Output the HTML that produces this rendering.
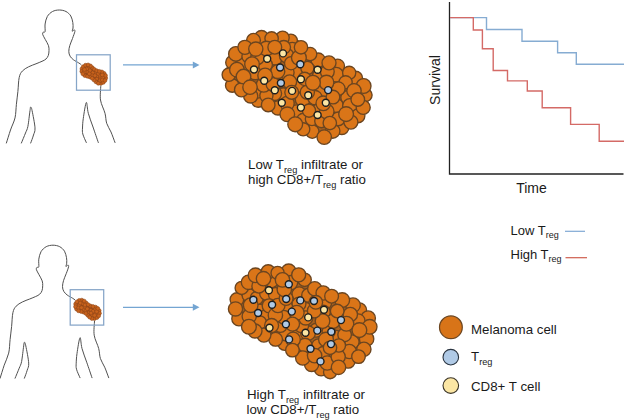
<!DOCTYPE html>
<html><head><meta charset="utf-8"><style>
html,body{margin:0;padding:0;background:#fff;width:625px;height:420px;overflow:hidden}
svg{display:block;font-family:"Liberation Sans",sans-serif}
.fig path{fill:none;stroke:#505050;stroke-width:1.0;stroke-linecap:round}
.box{fill:none;stroke:#86a5c8;stroke-width:1.25}
.arr{stroke:#74a5d2;stroke-width:1.35}
.ah{fill:#74a5d2}
.cl circle{fill:#da7518;stroke:#6b4520;stroke-width:1.35}
.cl .ul{fill:#a8601e;stroke:none}
.dt circle{stroke:#1e1e1e;stroke-width:1.4}
circle.y{fill:#fbe6a4}
circle.b{fill:#b0cae6}
.mt{fill:#9a4a1c;stroke:none}
.ms circle{fill:#c8621c;stroke:#8a4418;stroke-width:0.55}
.ax{fill:none;stroke:#222;stroke-width:1.3}
.bl{fill:none;stroke:#86acd2;stroke-width:1.4}
.rd{fill:none;stroke:#d46a66;stroke-width:1.4}
text{fill:#1a1a1a}
</style></head><body>
<svg width="625" height="420" viewBox="0 0 625 420">
<g class="fig"><path d="M6.4,143.0 C7.1,140.8 9.1,134.2 10.5,130.0 C11.9,125.8 14.0,122.2 15.0,117.9 C16.0,113.6 15.9,108.7 16.4,104.3 C16.9,99.9 17.4,95.9 17.9,91.4 C18.4,86.9 18.4,80.9 19.2,77.5 C19.9,74.1 20.8,72.8 22.4,71.0 C24.0,69.2 26.3,68.0 28.6,66.8 C30.9,65.6 33.8,64.7 36.0,63.8 C38.2,62.9 40.3,62.1 42.0,61.3 C43.7,60.5 45.0,60.0 46.0,59.0 C47.0,58.0 47.8,56.9 48.3,55.5 C48.8,54.1 49.0,52.1 49.0,50.5 C49.0,48.9 49.1,47.5 48.5,45.7 C47.9,43.9 46.3,41.4 45.3,39.5 C44.3,37.6 43.1,35.7 42.7,34.5 C42.4,33.3 42.8,32.7 43.2,32.2 C43.6,31.7 44.8,32.9 45.1,31.5 C45.4,30.1 44.7,26.5 45.1,24.0 C45.5,21.5 46.1,18.6 47.3,16.5 C48.5,14.4 50.5,12.6 52.5,11.5 C54.5,10.4 57.0,10.0 59.3,10.0 C61.5,10.0 64.1,10.5 66.0,11.5 C67.9,12.5 69.7,14.2 70.8,16.0 C71.9,17.8 72.4,20.5 72.8,22.5 C73.2,24.5 73.1,26.6 73.0,28.0 C72.9,29.4 72.0,30.9 72.2,31.2 C72.4,31.5 73.8,29.9 74.2,30.0 C74.7,30.1 75.2,30.1 74.9,31.5 C74.6,32.9 73.3,36.2 72.5,38.5 C71.7,40.8 70.4,43.4 69.8,45.5 C69.2,47.6 68.8,49.6 68.8,51.4 C68.8,53.2 69.3,54.8 70.1,56.2 C70.9,57.6 72.1,58.7 73.5,59.8 C74.9,60.9 77.5,62.1 78.7,62.9 C80.0,63.7 80.6,64.2 81.0,64.5"/><path d="M21.4,143.0 C22.1,141.3 24.4,135.8 25.5,133.0 C26.6,130.2 27.1,130.1 27.9,126.4 C28.6,122.7 29.5,113.9 30.0,110.7 C30.5,107.5 30.3,107.1 30.7,107.1 C31.1,107.1 31.4,107.2 32.1,110.7 C32.8,114.2 34.8,123.9 35.0,127.9 C35.2,132.0 34.2,132.5 33.5,135.0 C32.8,137.5 31.2,141.7 30.7,143.0"/><path d="M86.3,142.5 C85.7,141.1 83.4,136.4 82.8,134.0 C82.2,131.6 82.4,130.6 82.5,128.0 C82.6,125.4 82.7,122.5 83.3,118.3 C83.9,114.0 85.5,103.3 86.3,102.5 C87.1,101.7 87.2,109.2 88.3,113.3 C89.4,117.4 91.3,122.1 93.0,127.0 C94.7,131.9 97.4,139.9 98.3,142.5"/><path d="M100.8,86.0 C100.8,88.3 99.8,95.5 100.5,100.0 C101.2,104.5 104.0,109.4 105.0,113.3 C106.0,117.2 105.7,120.2 106.7,123.3 C107.7,126.4 109.6,128.8 111.0,132.0 C112.4,135.2 114.3,140.8 115.0,142.5"/></g>
<g class="fig"><path d="M0.1,378.2 C0.8,376.0 2.8,369.4 4.2,365.2 C5.6,361.0 7.7,357.4 8.7,353.1 C9.7,348.8 9.6,343.9 10.1,339.5 C10.6,335.1 11.1,331.1 11.6,326.6 C12.1,322.1 12.1,316.1 12.9,312.7 C13.6,309.3 14.5,308.0 16.1,306.2 C17.7,304.4 20.0,303.2 22.3,302.0 C24.6,300.8 27.5,299.9 29.7,299.0 C31.9,298.1 34.0,297.3 35.7,296.5 C37.4,295.7 38.7,295.2 39.7,294.2 C40.8,293.2 41.5,292.1 42.0,290.7 C42.5,289.3 42.7,287.3 42.7,285.7 C42.7,284.1 42.8,282.7 42.2,280.9 C41.6,279.1 40.0,276.6 39.0,274.7 C38.0,272.8 36.8,270.9 36.4,269.7 C36.1,268.5 36.5,267.9 36.9,267.4 C37.3,266.9 38.5,268.1 38.8,266.7 C39.1,265.3 38.4,261.7 38.8,259.2 C39.2,256.7 39.8,253.8 41.0,251.7 C42.2,249.6 44.2,247.8 46.2,246.7 C48.2,245.6 50.8,245.2 53.0,245.2 C55.2,245.2 57.8,245.7 59.7,246.7 C61.6,247.7 63.4,249.4 64.5,251.2 C65.6,253.0 66.1,255.7 66.5,257.7 C66.9,259.7 66.8,261.8 66.7,263.2 C66.6,264.6 65.7,266.1 65.9,266.4 C66.1,266.7 67.5,265.1 67.9,265.2 C68.4,265.2 68.9,265.3 68.6,266.7 C68.3,268.1 67.1,271.4 66.2,273.7 C65.3,276.0 64.1,278.6 63.5,280.7 C62.9,282.8 62.5,284.8 62.5,286.6 C62.5,288.4 63.0,290.0 63.8,291.4 C64.6,292.8 65.8,293.9 67.2,295.0 C68.6,296.1 71.2,297.3 72.4,298.1 C73.7,298.9 74.3,299.4 74.7,299.7"/><path d="M15.1,378.2 C15.8,376.5 18.1,371.0 19.2,368.2 C20.3,365.4 20.8,365.3 21.6,361.6 C22.3,357.9 23.2,349.1 23.7,345.9 C24.2,342.7 24.0,342.3 24.4,342.3 C24.8,342.3 25.1,342.4 25.8,345.9 C26.5,349.4 28.5,359.1 28.7,363.1 C28.9,367.2 27.9,367.7 27.2,370.2 C26.5,372.7 24.9,376.9 24.4,378.2"/><path d="M80.0,377.7 C79.4,376.3 77.1,371.6 76.5,369.2 C75.9,366.8 76.1,365.8 76.2,363.2 C76.3,360.6 76.4,357.8 77.0,353.5 C77.6,349.2 79.2,338.5 80.0,337.7 C80.8,336.9 80.9,344.4 82.0,348.5 C83.1,352.6 85.0,357.3 86.7,362.2 C88.4,367.1 91.1,375.1 92.0,377.7"/><path d="M94.5,321.2 C94.5,323.5 93.5,330.6 94.2,335.2 C94.9,339.8 97.7,344.6 98.7,348.5 C99.7,352.4 99.4,355.4 100.4,358.5 C101.4,361.6 103.3,364.0 104.7,367.2 C106.1,370.4 108.0,375.9 108.7,377.7"/></g>
<rect class="box" x="76.5" y="54.8" width="33.7" height="35.4"/>
<rect class="box" x="70.2" y="289.7" width="33.5" height="35.4"/>
<path class="mt" d="M84.5,76.2 C85.6,76.7 88.6,77.3 89.4,77.5 C90.3,77.8 89.5,77.6 89.5,77.6 C89.6,77.6 89.4,77.5 89.6,77.6 C89.9,77.8 91.0,78.3 91.3,78.5 C91.6,78.6 91.4,78.5 91.4,78.5 C91.4,78.5 91.5,78.6 91.5,78.6 C91.5,78.6 90.7,77.8 91.6,78.6 C92.4,79.5 95.6,82.5 96.7,83.4 C97.8,84.3 97.7,83.9 98.2,84.0 C98.8,84.2 99.4,84.3 100.2,84.3 C100.9,84.2 102.0,84.0 102.7,83.7 C103.5,83.3 104.3,82.8 104.9,82.2 C105.4,81.5 105.9,80.8 106.2,80.0 C106.5,79.2 106.7,78.3 106.7,77.4 C106.6,76.5 106.2,75.3 106.0,74.6 C105.7,73.9 105.4,73.6 105.0,73.2 C104.7,72.8 104.4,72.5 103.9,72.2 C103.4,71.9 103.3,71.6 102.1,71.3 C100.9,70.9 97.8,70.3 96.9,70.0 C96.0,69.8 96.8,70.0 96.7,70.0 C96.7,70.0 96.7,70.0 96.6,70.0 C96.6,69.9 96.9,70.1 96.5,69.9 C96.1,69.6 94.6,68.7 94.2,68.4 C93.7,68.2 94.1,68.4 94.1,68.4 C94.0,68.3 94.0,68.3 94.0,68.3 C94.0,68.3 94.3,68.6 93.9,68.2 C93.5,67.8 92.3,66.4 91.7,65.9 C91.1,65.3 91.0,65.2 90.5,65.0 C90.0,64.7 89.5,64.5 89.0,64.3 C88.4,64.2 87.8,64.1 87.1,64.1 C86.4,64.2 85.4,64.4 84.7,64.7 C83.9,65.0 83.2,65.5 82.7,66.1 C82.1,66.7 81.6,67.6 81.3,68.3 C81.0,69.0 80.9,69.6 80.9,70.3 C80.9,71.0 81.0,71.8 81.3,72.5 C81.5,73.3 82.0,74.1 82.5,74.7 C83.0,75.3 83.3,75.7 84.5,76.2Z"/><g class="ms"><circle cx="96.8" cy="78.7" r="1.9"/><circle cx="81.9" cy="68.8" r="1.9"/><circle cx="97.4" cy="75.7" r="1.9"/><circle cx="104.1" cy="73.3" r="1.9"/><circle cx="96.1" cy="81.9" r="1.9"/><circle cx="95.4" cy="72.7" r="1.9"/><circle cx="89.3" cy="68.2" r="1.9"/><circle cx="84.8" cy="75.6" r="1.9"/><circle cx="83.3" cy="66.6" r="1.9"/><circle cx="92.7" cy="72.7" r="1.9"/><circle cx="100.9" cy="83.4" r="1.9"/><circle cx="81.8" cy="71.4" r="1.9"/><circle cx="94.1" cy="80.1" r="1.9"/><circle cx="87.3" cy="71.8" r="1.9"/><circle cx="103.3" cy="82.4" r="1.9"/><circle cx="92.4" cy="67.7" r="1.9"/><circle cx="105.8" cy="78.1" r="1.9"/><circle cx="84.3" cy="71.9" r="1.9"/><circle cx="85.5" cy="65.2" r="1.9"/><circle cx="100.5" cy="77.8" r="1.9"/><circle cx="92.0" cy="75.6" r="1.9"/><circle cx="99.9" cy="80.7" r="1.9"/><circle cx="99.9" cy="75.3" r="1.9"/><circle cx="101.9" cy="71.9" r="1.9"/><circle cx="98.2" cy="73.5" r="1.9"/><circle cx="94.4" cy="69.4" r="1.9"/><circle cx="89.9" cy="70.6" r="1.9"/><circle cx="90.5" cy="65.9" r="1.9"/><circle cx="89.9" cy="77.0" r="1.9"/><circle cx="92.2" cy="78.3" r="1.9"/><circle cx="88.1" cy="64.9" r="1.9"/><circle cx="87.4" cy="76.3" r="1.9"/><circle cx="96.7" cy="70.7" r="1.9"/><circle cx="98.3" cy="83.3" r="1.9"/><circle cx="99.3" cy="71.3" r="1.9"/><circle cx="102.8" cy="77.7" r="1.9"/><circle cx="86.7" cy="68.9" r="1.9"/><circle cx="105.5" cy="75.5" r="1.9"/><circle cx="102.3" cy="80.0" r="1.9"/><circle cx="89.3" cy="73.8" r="1.9"/><circle cx="105.0" cy="80.5" r="1.9"/><circle cx="102.2" cy="74.9" r="1.9"/><circle cx="84.5" cy="69.5" r="1.9"/><circle cx="82.8" cy="73.8" r="1.9"/><circle cx="94.9" cy="75.6" r="1.9"/></g>
<path class="mt" d="M78.2,311.4 C79.4,311.9 82.6,312.6 83.4,312.9 C84.3,313.1 83.5,312.9 83.5,312.9 C83.6,312.9 83.6,312.9 83.6,312.9 C83.7,312.9 83.4,312.8 83.7,313.0 C84.0,313.2 85.2,313.8 85.5,314.0 C85.8,314.2 85.6,314.0 85.6,314.1 C85.7,314.1 85.7,314.1 85.7,314.1 C85.8,314.2 85.2,313.6 85.8,314.2 C86.4,314.8 88.3,316.9 89.1,317.6 C89.9,318.4 89.9,318.3 90.4,318.6 C90.8,318.9 91.4,319.1 91.9,319.2 C92.5,319.4 93.1,319.5 93.9,319.5 C94.6,319.4 95.7,319.2 96.4,318.9 C97.2,318.5 98.0,318.0 98.6,317.4 C99.1,316.7 99.6,316.0 99.9,315.2 C100.2,314.4 100.4,313.5 100.4,312.6 C100.3,311.7 99.9,310.5 99.7,309.8 C99.4,309.1 99.1,308.8 98.7,308.4 C98.4,308.0 98.1,307.7 97.6,307.4 C97.1,307.1 97.0,306.8 95.8,306.5 C94.6,306.1 91.5,305.5 90.6,305.2 C89.7,305.0 90.5,305.2 90.4,305.2 C90.4,305.2 90.4,305.2 90.3,305.2 C90.3,305.1 90.6,305.3 90.2,305.1 C89.8,304.8 88.3,303.9 87.9,303.6 C87.4,303.4 87.8,303.6 87.8,303.6 C87.7,303.5 87.7,303.5 87.7,303.5 C87.7,303.5 88.0,303.8 87.6,303.4 C87.2,303.0 86.0,301.6 85.4,301.1 C84.8,300.5 84.7,300.4 84.2,300.2 C83.7,299.9 83.2,299.7 82.7,299.5 C82.1,299.4 81.5,299.3 80.8,299.3 C80.1,299.4 79.1,299.6 78.4,299.9 C77.6,300.2 76.9,300.7 76.4,301.3 C75.8,301.9 75.3,302.8 75.0,303.5 C74.7,304.2 74.6,304.8 74.6,305.5 C74.6,306.2 74.7,307.0 75.0,307.7 C75.2,308.5 75.7,309.3 76.2,309.9 C76.7,310.5 77.0,310.9 78.2,311.4Z"/><g class="ms"><circle cx="76.5" cy="309.1" r="1.9"/><circle cx="79.0" cy="305.3" r="1.9"/><circle cx="83.6" cy="312.2" r="1.9"/><circle cx="84.5" cy="307.3" r="1.9"/><circle cx="97.1" cy="313.8" r="1.9"/><circle cx="92.2" cy="315.2" r="1.9"/><circle cx="95.6" cy="307.1" r="1.9"/><circle cx="82.9" cy="303.7" r="1.9"/><circle cx="94.5" cy="318.6" r="1.9"/><circle cx="81.8" cy="300.1" r="1.9"/><circle cx="94.7" cy="309.7" r="1.9"/><circle cx="75.6" cy="304.0" r="1.9"/><circle cx="79.2" cy="300.4" r="1.9"/><circle cx="83.7" cy="309.8" r="1.9"/><circle cx="85.8" cy="311.0" r="1.9"/><circle cx="99.2" cy="310.7" r="1.9"/><circle cx="94.9" cy="312.9" r="1.9"/><circle cx="90.9" cy="310.1" r="1.9"/><circle cx="75.5" cy="306.7" r="1.9"/><circle cx="86.1" cy="302.9" r="1.9"/><circle cx="91.9" cy="318.5" r="1.9"/><circle cx="88.4" cy="312.8" r="1.9"/><circle cx="87.3" cy="308.8" r="1.9"/><circle cx="97.0" cy="317.6" r="1.9"/><circle cx="90.4" cy="305.9" r="1.9"/><circle cx="99.5" cy="313.3" r="1.9"/><circle cx="76.9" cy="301.8" r="1.9"/><circle cx="81.1" cy="311.5" r="1.9"/><circle cx="98.7" cy="315.8" r="1.9"/><circle cx="80.2" cy="303.0" r="1.9"/><circle cx="87.8" cy="315.3" r="1.9"/><circle cx="78.6" cy="307.9" r="1.9"/><circle cx="93.0" cy="311.3" r="1.9"/><circle cx="78.5" cy="310.8" r="1.9"/><circle cx="84.2" cy="301.1" r="1.9"/><circle cx="85.0" cy="305.0" r="1.9"/><circle cx="91.0" cy="313.1" r="1.9"/><circle cx="93.0" cy="306.5" r="1.9"/><circle cx="96.7" cy="311.5" r="1.9"/><circle cx="89.7" cy="317.2" r="1.9"/><circle cx="94.6" cy="315.4" r="1.9"/><circle cx="97.8" cy="308.5" r="1.9"/><circle cx="85.9" cy="313.4" r="1.9"/><circle cx="88.1" cy="304.6" r="1.9"/><circle cx="81.5" cy="307.7" r="1.9"/></g>
<line class="arr" x1="123" y1="64.9" x2="194" y2="64.9"/><path class="ah" d="M199.5,64.9 L192.8,61.4 L192.8,68.4Z"/>
<line class="arr" x1="123" y1="307.3" x2="194" y2="307.3"/><path class="ah" d="M199.5,307.3 L192.8,303.8 L192.8,310.8Z"/>
<g class="cl"><path class="ul" d="M250.2,37.8 C247.8,39.6 244.2,43.8 242.9,45.0 C241.7,46.3 244.4,44.0 242.5,45.4 C240.6,46.8 234.0,50.8 231.8,53.4 C229.6,56.0 229.7,59.8 229.3,61.1 C228.8,62.4 229.8,59.5 229.2,61.2 C228.6,62.8 226.0,67.9 225.7,70.9 C225.4,74.0 226.7,76.9 227.4,79.4 C228.1,82.0 228.8,84.5 229.9,86.3 C231.0,88.1 231.9,89.0 233.9,90.2 C235.9,91.5 240.5,93.2 241.9,93.8 C243.3,94.4 242.1,93.9 242.2,93.9 C242.3,94.0 242.4,94.0 242.5,94.1 C242.6,94.2 241.1,93.0 242.8,94.3 C244.5,95.6 249.2,100.1 252.6,102.2 C256.1,104.2 259.4,105.0 263.4,106.5 C267.3,107.9 274.3,110.1 276.5,110.9 C278.8,111.6 276.8,111.0 276.9,111.0 C277.0,111.1 277.2,111.2 277.3,111.2 C277.4,111.3 276.1,110.4 277.6,111.5 C279.1,112.6 284.8,116.8 286.3,117.9 C287.8,119.1 286.5,118.1 286.7,118.2 C286.8,118.3 286.9,118.4 287.0,118.5 C287.1,118.7 286.5,117.8 287.2,118.9 C288.0,120.0 289.3,123.0 291.4,125.1 C293.4,127.1 296.0,129.7 299.4,131.2 C302.9,132.8 310.0,133.8 312.2,134.3 C314.4,134.9 312.4,134.4 312.6,134.5 C312.7,134.5 312.8,134.5 312.9,134.6 C313.1,134.7 311.6,133.8 313.3,134.8 C315.0,135.8 320.8,140.0 323.2,140.7 C325.7,141.5 326.0,140.6 328.2,139.1 C330.4,137.6 335.1,133.1 336.6,131.9 C338.0,130.6 336.8,131.7 336.9,131.6 C337.0,131.5 337.1,131.4 337.3,131.4 C337.4,131.3 337.5,131.2 337.6,131.2 C337.8,131.1 336.2,131.6 338.0,131.0 C339.9,130.5 345.5,129.2 348.6,127.8 C351.7,126.4 354.7,124.6 356.7,122.7 C358.7,120.9 359.3,119.0 360.8,116.6 C362.4,114.1 365.0,110.6 366.2,108.0 C367.4,105.3 367.7,103.6 368.2,100.8 C368.7,98.0 369.3,93.7 369.2,91.2 C369.1,88.7 368.9,87.6 367.7,85.9 C366.5,84.1 362.9,81.7 361.8,80.8 C360.8,79.9 361.7,80.6 361.6,80.6 C361.5,80.5 362.4,81.5 361.4,80.3 C360.5,79.2 357.7,75.7 355.9,73.9 C354.1,72.1 353.0,71.0 350.6,69.5 C348.1,68.0 342.9,65.7 341.4,64.9 C339.8,64.2 342.9,65.7 341.3,64.9 C339.8,64.1 334.8,61.3 332.1,60.2 C329.4,59.2 327.1,58.8 325.0,58.5 C323.0,58.1 320.9,58.1 320.0,58.0 C319.0,57.9 319.7,58.0 319.6,58.0 C319.5,58.0 319.3,57.9 319.2,57.9 C319.1,57.9 319.0,57.8 318.9,57.8 C318.8,57.7 318.7,57.7 318.5,57.6 C318.4,57.6 318.3,57.5 318.2,57.5 C318.1,57.4 318.0,57.3 317.9,57.3 C317.8,57.2 318.6,57.9 317.6,57.0 C316.7,56.2 314.2,53.8 312.2,52.2 C310.3,50.6 307.0,48.4 305.9,47.6 C304.7,46.7 305.6,47.4 305.5,47.2 C305.4,47.1 305.9,47.8 305.2,46.9 C304.4,46.0 302.8,43.3 300.8,41.7 C298.8,40.2 295.9,38.9 293.0,37.5 C290.1,36.2 286.3,34.0 283.5,33.6 C280.7,33.3 277.4,35.3 276.1,35.6 C274.8,36.0 275.9,35.7 275.7,35.7 C275.6,35.7 275.5,35.7 275.4,35.8 C275.2,35.8 275.1,35.8 275.0,35.8 C274.9,35.8 274.8,35.8 274.6,35.7 C274.5,35.7 276.1,36.1 274.3,35.7 C272.4,35.3 266.5,33.7 263.6,33.5 C260.7,33.3 259.2,33.7 256.9,34.4 C254.7,35.1 252.5,36.0 250.2,37.8Z"/><circle cx="337.6" cy="66.0" r="6.9"/><circle cx="232.6" cy="62.4" r="6.9"/><circle cx="261.5" cy="37.4" r="6.9"/><circle cx="275.4" cy="58.1" r="7.0"/><circle cx="336.1" cy="74.7" r="7.3"/><circle cx="283.1" cy="94.7" r="6.9"/><circle cx="319.8" cy="75.9" r="7.4"/><circle cx="298.1" cy="85.5" r="7.0"/><circle cx="341.8" cy="127.4" r="7.1"/><circle cx="243.6" cy="63.0" r="6.9"/><circle cx="302.7" cy="99.4" r="7.4"/><circle cx="355.8" cy="77.9" r="6.7"/><circle cx="281.0" cy="80.6" r="7.3"/><circle cx="255.2" cy="72.5" r="7.3"/><circle cx="321.9" cy="91.5" r="6.8"/><circle cx="312.3" cy="131.6" r="6.7"/><circle cx="232.3" cy="85.5" r="6.8"/><circle cx="347.8" cy="97.5" r="7.0"/><circle cx="296.5" cy="111.8" r="7.0"/><circle cx="318.2" cy="60.2" r="7.2"/><circle cx="310.1" cy="54.1" r="6.7"/><circle cx="235.9" cy="53.9" r="7.3"/><circle cx="258.2" cy="100.3" r="6.9"/><circle cx="274.6" cy="93.5" r="7.0"/><circle cx="315.0" cy="97.7" r="7.2"/><circle cx="257.8" cy="91.1" r="7.0"/><circle cx="266.4" cy="95.6" r="6.6"/><circle cx="248.7" cy="56.2" r="6.8"/><circle cx="290.8" cy="40.7" r="6.6"/><circle cx="336.3" cy="105.5" r="7.0"/><circle cx="292.3" cy="49.3" r="6.9"/><circle cx="332.7" cy="131.0" r="7.2"/><circle cx="250.7" cy="95.9" r="7.1"/><circle cx="297.9" cy="72.6" r="7.3"/><circle cx="282.6" cy="37.7" r="6.6"/><circle cx="286.6" cy="55.6" r="7.2"/><circle cx="286.9" cy="72.4" r="7.2"/><circle cx="265.3" cy="64.7" r="7.1"/><circle cx="257.6" cy="57.6" r="6.9"/><circle cx="253.5" cy="40.3" r="6.9"/><circle cx="303.7" cy="120.6" r="7.4"/><circle cx="289.6" cy="81.9" r="7.0"/><circle cx="338.2" cy="118.9" r="6.8"/><circle cx="278.0" cy="107.9" r="7.1"/><circle cx="291.1" cy="63.2" r="6.6"/><circle cx="365.5" cy="95.1" r="6.6"/><circle cx="312.0" cy="118.9" r="6.7"/><circle cx="307.3" cy="92.2" r="7.1"/><circle cx="349.2" cy="72.8" r="6.6"/><circle cx="263.7" cy="84.7" r="7.4"/><circle cx="307.4" cy="68.0" r="6.6"/><circle cx="318.0" cy="110.7" r="6.7"/><circle cx="268.2" cy="104.9" r="6.8"/><circle cx="283.8" cy="47.2" r="6.7"/><circle cx="273.1" cy="84.4" r="6.9"/><circle cx="309.0" cy="110.6" r="6.6"/><circle cx="228.8" cy="74.7" r="6.7"/><circle cx="349.9" cy="105.9" r="7.3"/><circle cx="358.0" cy="115.8" r="6.9"/><circle cx="271.6" cy="38.4" r="6.7"/><circle cx="236.9" cy="69.7" r="7.3"/><circle cx="266.4" cy="48.5" r="7.3"/><circle cx="350.9" cy="122.1" r="7.0"/><circle cx="327.3" cy="71.8" r="6.9"/><circle cx="363.2" cy="107.4" r="7.0"/><circle cx="274.8" cy="47.2" r="6.9"/><circle cx="277.8" cy="71.5" r="7.0"/><circle cx="363.6" cy="86.0" r="7.4"/><circle cx="241.5" cy="89.8" r="7.0"/><circle cx="324.2" cy="137.1" r="7.2"/><circle cx="345.6" cy="82.3" r="6.6"/><circle cx="321.4" cy="121.0" r="6.7"/><circle cx="326.7" cy="111.5" r="7.3"/><circle cx="287.1" cy="103.4" r="7.1"/><circle cx="329.8" cy="123.0" r="6.7"/><circle cx="252.0" cy="64.2" r="7.3"/><circle cx="298.9" cy="57.7" r="7.4"/><circle cx="287.3" cy="114.3" r="7.3"/><circle cx="265.1" cy="75.4" r="7.3"/><circle cx="354.0" cy="90.8" r="7.2"/><circle cx="323.3" cy="103.3" r="7.3"/><circle cx="338.3" cy="88.7" r="6.8"/><circle cx="243.5" cy="76.6" r="7.3"/><circle cx="244.9" cy="47.3" r="7.0"/><circle cx="326.5" cy="82.5" r="7.3"/><circle cx="303.2" cy="129.3" r="6.6"/><circle cx="291.7" cy="92.3" r="6.9"/><circle cx="346.1" cy="114.1" r="7.4"/><circle cx="304.7" cy="78.9" r="6.7"/><circle cx="329.0" cy="62.9" r="7.0"/><circle cx="295.2" cy="124.3" r="7.4"/><circle cx="250.0" cy="87.2" r="7.2"/><circle cx="301.0" cy="47.3" r="6.7"/><circle cx="357.8" cy="99.5" r="6.8"/><circle cx="255.8" cy="49.1" r="7.1"/><circle cx="312.9" cy="82.8" r="7.4"/><circle cx="333.0" cy="97.1" r="6.8"/></g><g class="dt"><circle class="y" cx="283.0" cy="53.4" r="3.5"/><circle class="y" cx="267.2" cy="58.7" r="3.5"/><circle class="y" cx="254.0" cy="69.5" r="3.5"/><circle class="y" cx="317.6" cy="69.8" r="3.5"/><circle class="y" cx="264.2" cy="80.7" r="3.5"/><circle class="y" cx="300.9" cy="79.2" r="3.5"/><circle class="y" cx="274.8" cy="90.3" r="3.5"/><circle class="y" cx="292.1" cy="90.9" r="3.5"/><circle class="y" cx="308.2" cy="95.3" r="3.5"/><circle class="y" cx="281.8" cy="102.7" r="3.5"/><circle class="y" cx="325.8" cy="102.7" r="3.5"/><circle class="y" cx="300.9" cy="107.6" r="3.5"/><circle class="y" cx="317.6" cy="115.0" r="3.5"/><circle class="b" cx="280.1" cy="67.5" r="3.5"/><circle class="b" cx="300.3" cy="64.3" r="3.5"/><circle class="b" cx="280.9" cy="83.0" r="3.5"/><circle class="b" cx="328.1" cy="90.1" r="3.5"/></g>
<g class="cl"><path class="ul" d="M246.7,279.9 C245.2,281.3 246.6,280.0 246.5,280.1 C246.4,280.2 247.6,279.4 246.3,280.3 C244.9,281.2 240.3,283.1 238.6,285.4 C236.9,287.6 236.4,292.4 236.0,293.9 C235.5,295.3 236.5,292.6 235.9,294.2 C235.3,295.7 232.9,300.2 232.3,303.1 C231.7,306.0 231.9,309.0 232.3,311.6 C232.7,314.3 233.2,316.9 234.8,319.0 C236.3,321.0 240.3,323.0 241.5,323.8 C242.7,324.7 241.8,324.0 241.9,324.1 C242.0,324.3 241.1,323.2 242.2,324.5 C243.3,325.7 245.7,329.7 248.5,331.7 C251.2,333.8 255.0,335.4 259.0,337.0 C262.9,338.6 269.9,340.6 272.2,341.4 C274.5,342.2 270.4,340.5 272.7,341.6 C275.0,342.8 283.7,347.1 285.9,348.2 C288.2,349.4 286.1,348.3 286.2,348.4 C286.3,348.5 286.4,348.5 286.5,348.6 C286.6,348.7 285.2,347.5 286.8,348.8 C288.3,350.1 292.7,354.0 295.6,356.6 C298.6,359.2 300.7,361.8 304.3,364.2 C307.9,366.5 313.0,368.8 317.3,370.6 C321.5,372.4 326.7,374.4 329.6,374.7 C332.6,375.1 332.3,374.5 335.0,373.0 C337.7,371.4 343.9,366.7 345.7,365.4 C347.6,364.1 346.0,365.3 346.1,365.2 C346.2,365.1 346.4,365.1 346.5,365.0 C346.6,364.9 345.1,365.4 346.9,364.9 C348.7,364.3 354.5,363.3 357.2,361.8 C359.9,360.3 361.4,358.3 363.1,355.9 C364.8,353.6 366.2,350.5 367.3,347.6 C368.3,344.8 369.1,340.4 369.5,338.9 C369.9,337.5 369.0,340.6 369.5,338.8 C370.1,336.9 372.1,330.7 372.8,327.8 C373.4,324.9 374.0,323.0 373.7,321.2 C373.4,319.5 372.1,318.7 370.9,317.4 C369.7,316.0 367.0,313.9 366.2,313.2 C365.4,312.4 366.0,313.0 365.9,312.9 C365.9,312.8 366.6,313.7 365.7,312.6 C364.8,311.5 362.6,307.7 360.7,306.0 C358.9,304.4 357.0,303.8 354.7,302.6 C352.4,301.4 348.3,299.4 347.1,298.8 C345.8,298.2 348.5,299.6 347.0,298.8 C345.5,298.0 340.8,295.1 338.0,294.2 C335.2,293.3 331.5,293.6 330.2,293.4 C328.8,293.3 329.9,293.4 329.8,293.4 C329.7,293.3 329.6,293.3 329.5,293.3 C329.4,293.2 329.2,293.2 329.1,293.2 C329.0,293.1 328.9,293.1 328.8,293.0 C328.7,293.0 329.3,293.3 328.5,292.8 C327.7,292.4 325.8,291.1 324.1,290.2 C322.5,289.3 319.6,287.9 318.6,287.4 C317.6,287.0 319.5,287.9 318.4,287.3 C317.2,286.7 313.1,284.2 311.9,283.6 C310.8,282.9 311.7,283.4 311.6,283.4 C311.5,283.3 311.4,283.2 311.3,283.1 C311.2,283.0 311.1,282.9 311.0,282.9 C311.0,282.8 310.9,282.7 310.8,282.6 C310.7,282.5 311.3,283.4 310.6,282.2 C309.8,281.1 307.9,277.1 306.4,275.6 C304.8,274.0 302.2,273.5 301.4,273.1 C300.5,272.7 302.4,273.6 301.3,273.1 C300.3,272.6 297.3,270.8 295.2,270.0 C293.1,269.3 290.9,268.3 288.8,268.4 C286.6,268.6 283.5,270.4 282.3,270.8 C281.2,271.2 282.1,270.9 281.9,270.9 C281.8,271.0 281.7,271.0 281.5,271.0 C281.4,271.0 281.2,271.0 281.1,271.0 C281.0,271.0 280.8,271.0 280.7,271.0 C280.5,271.0 280.4,271.0 280.2,271.0 C280.1,270.9 281.4,271.3 279.8,270.9 C278.3,270.4 274.0,268.6 271.1,268.3 C268.2,268.1 265.1,268.6 262.5,269.2 C260.0,269.7 258.4,269.9 255.8,271.7 C253.2,273.5 248.3,278.5 246.7,279.9Z"/><circle cx="348.1" cy="361.3" r="6.9"/><circle cx="359.2" cy="310.3" r="7.4"/><circle cx="351.9" cy="342.0" r="7.2"/><circle cx="271.6" cy="281.1" r="6.7"/><circle cx="236.9" cy="299.5" r="6.8"/><circle cx="353.0" cy="305.2" r="7.3"/><circle cx="316.1" cy="330.3" r="6.9"/><circle cx="288.7" cy="271.4" r="7.4"/><circle cx="342.2" cy="300.1" r="7.4"/><circle cx="284.6" cy="343.5" r="6.8"/><circle cx="259.3" cy="311.2" r="7.2"/><circle cx="286.6" cy="333.8" r="7.3"/><circle cx="248.8" cy="295.3" r="6.7"/><circle cx="366.6" cy="338.9" r="7.2"/><circle cx="256.8" cy="298.1" r="6.6"/><circle cx="324.6" cy="303.1" r="7.0"/><circle cx="336.1" cy="337.3" r="7.0"/><circle cx="239.0" cy="318.7" r="7.2"/><circle cx="241.7" cy="287.9" r="6.6"/><circle cx="266.8" cy="316.0" r="6.9"/><circle cx="328.7" cy="331.6" r="6.6"/><circle cx="299.4" cy="333.4" r="6.6"/><circle cx="266.7" cy="293.2" r="7.1"/><circle cx="349.3" cy="351.5" r="7.2"/><circle cx="318.5" cy="345.7" r="6.8"/><circle cx="321.2" cy="369.0" r="6.9"/><circle cx="323.2" cy="353.1" r="6.6"/><circle cx="268.2" cy="271.7" r="7.0"/><circle cx="259.8" cy="322.5" r="6.7"/><circle cx="304.6" cy="279.8" r="6.7"/><circle cx="344.6" cy="334.8" r="6.8"/><circle cx="308.0" cy="333.1" r="7.4"/><circle cx="301.4" cy="325.3" r="7.3"/><circle cx="280.4" cy="325.3" r="7.0"/><circle cx="286.6" cy="307.9" r="6.7"/><circle cx="248.5" cy="282.3" r="7.2"/><circle cx="305.0" cy="345.2" r="7.0"/><circle cx="258.8" cy="286.2" r="6.9"/><circle cx="255.5" cy="275.3" r="7.3"/><circle cx="293.1" cy="339.4" r="7.2"/><circle cx="363.9" cy="349.3" r="7.1"/><circle cx="299.2" cy="294.0" r="7.2"/><circle cx="275.6" cy="339.3" r="6.9"/><circle cx="323.1" cy="312.3" r="7.2"/><circle cx="368.1" cy="318.2" r="7.3"/><circle cx="358.5" cy="356.6" r="6.8"/><circle cx="263.9" cy="335.1" r="7.0"/><circle cx="290.6" cy="282.6" r="7.1"/><circle cx="305.9" cy="309.5" r="7.0"/><circle cx="299.0" cy="304.0" r="6.9"/><circle cx="308.7" cy="295.2" r="7.0"/><circle cx="333.1" cy="321.3" r="7.1"/><circle cx="277.6" cy="272.9" r="6.6"/><circle cx="275.5" cy="294.6" r="7.1"/><circle cx="249.2" cy="316.3" r="7.1"/><circle cx="358.2" cy="320.7" r="6.8"/><circle cx="283.7" cy="317.2" r="6.9"/><circle cx="311.6" cy="364.4" r="7.1"/><circle cx="255.0" cy="331.0" r="7.0"/><circle cx="269.2" cy="305.8" r="7.0"/><circle cx="275.4" cy="315.2" r="7.2"/><circle cx="305.7" cy="317.9" r="7.1"/><circle cx="235.5" cy="308.9" r="7.1"/><circle cx="322.5" cy="321.0" r="7.3"/><circle cx="369.7" cy="326.8" r="7.3"/><circle cx="250.7" cy="305.2" r="7.3"/><circle cx="314.7" cy="288.8" r="7.1"/><circle cx="323.2" cy="293.0" r="7.2"/><circle cx="296.8" cy="312.7" r="7.3"/><circle cx="302.8" cy="358.0" r="7.2"/><circle cx="314.4" cy="310.8" r="7.0"/><circle cx="326.0" cy="339.6" r="7.4"/><circle cx="277.9" cy="305.5" r="7.1"/><circle cx="350.3" cy="314.5" r="7.2"/><circle cx="330.1" cy="372.1" r="6.6"/><circle cx="292.4" cy="350.1" r="6.8"/><circle cx="327.2" cy="363.0" r="7.2"/><circle cx="338.2" cy="356.7" r="7.1"/><circle cx="286.1" cy="298.5" r="6.9"/><circle cx="338.8" cy="345.5" r="6.7"/><circle cx="284.3" cy="289.5" r="7.2"/><circle cx="346.4" cy="323.8" r="7.4"/><circle cx="337.2" cy="311.0" r="6.8"/><circle cx="248.9" cy="326.7" r="7.4"/><circle cx="282.5" cy="279.9" r="7.2"/><circle cx="330.0" cy="347.8" r="6.7"/><circle cx="338.5" cy="367.3" r="7.2"/><circle cx="298.7" cy="274.8" r="7.0"/><circle cx="263.5" cy="278.7" r="7.2"/><circle cx="314.6" cy="355.6" r="7.2"/><circle cx="359.4" cy="330.1" r="7.4"/><circle cx="292.5" cy="324.1" r="7.0"/><circle cx="315.8" cy="302.3" r="6.8"/><circle cx="271.6" cy="325.5" r="7.0"/><circle cx="331.6" cy="296.2" r="6.9"/></g><g class="dt"><circle class="y" cx="268.9" cy="290.2" r="3.5"/><circle class="y" cx="324.0" cy="309.8" r="3.5"/><circle class="y" cx="308.2" cy="317.4" r="3.5"/><circle class="y" cx="269.5" cy="327.7" r="3.5"/><circle class="y" cx="305.5" cy="332.7" r="3.5"/><circle class="b" cx="288.8" cy="284.3" r="3.5"/><circle class="b" cx="253.4" cy="299.8" r="3.5"/><circle class="b" cx="286.2" cy="299.0" r="3.5"/><circle class="b" cx="300.3" cy="300.4" r="3.5"/><circle class="b" cx="314.0" cy="301.0" r="3.5"/><circle class="b" cx="272.1" cy="304.8" r="3.5"/><circle class="b" cx="258.1" cy="313.0" r="3.5"/><circle class="b" cx="291.8" cy="311.6" r="3.5"/><circle class="b" cx="341.0" cy="320.1" r="3.5"/><circle class="b" cx="285.9" cy="324.2" r="3.5"/><circle class="b" cx="317.3" cy="330.6" r="3.5"/><circle class="b" cx="331.3" cy="331.8" r="3.5"/><circle class="b" cx="289.1" cy="339.4" r="3.5"/><circle class="b" cx="331.0" cy="344.1" r="3.5"/><circle class="b" cx="310.5" cy="348.8" r="3.5"/><circle class="b" cx="320.5" cy="361.4" r="3.5"/></g>
<path class="ax" d="M449.5,2 V174 H623.5"/><polyline class="bl" points="450.0,17.6 486.5,17.6 486.5,29.5 522.0,29.5 522.0,41.2 557.6,41.2 557.6,52.8 576.3,52.8 576.3,64.2 624.0,64.2"/><polyline class="rd" points="450.0,17.6 473.3,17.6 473.3,30.0 482.4,30.0 482.4,48.8 493.2,48.8 493.2,70.5 507.5,70.5 507.5,80.9 527.3,80.9 527.3,91.0 542.2,91.0 542.2,107.8 570.6,107.8 570.6,124.4 599.2,124.4 599.2,141.3 624.0,141.3"/>
<text x="248" y="168.5" font-size="13.3">Low T<tspan font-size="9.2" dy="4">reg</tspan><tspan dy="-4"> infiltrate or</tspan></text>
<text x="248" y="184.2" font-size="13.3">high CD8+/T<tspan font-size="9.2" dy="4">reg</tspan><tspan dy="-4"> ratio</tspan></text>
<text x="247" y="399.2" font-size="13.3">High T<tspan font-size="9.2" dy="4">reg</tspan><tspan dy="-4"> infiltrate or</tspan></text>
<text x="246.5" y="414.2" font-size="13.3">low CD8+/T<tspan font-size="9.2" dy="4">reg</tspan><tspan dy="-4"> ratio</tspan></text>
<text x="531.5" y="192.7" font-size="14" text-anchor="middle">Time</text>
<text transform="translate(439.6,80) rotate(-90)" font-size="14" text-anchor="middle">Survival</text>
<text x="510.5" y="234.5" font-size="13">Low T<tspan font-size="9" dy="3">reg</tspan><tspan dy="-3"></tspan></text>
<line x1="565" y1="231.3" x2="585" y2="231.3" stroke="#7fa9d4" stroke-width="1.2"/>
<text x="510.5" y="258.5" font-size="13">High T<tspan font-size="9" dy="3">reg</tspan><tspan dy="-3"></tspan></text>
<line x1="565.5" y1="257.7" x2="587" y2="257.7" stroke="#cf5e4e" stroke-width="1.2"/>
<circle cx="450.9" cy="327.3" r="11.4" fill="#d87418" stroke="#6b4520" stroke-width="1.2"/>
<circle cx="450.8" cy="357.2" r="7.8" fill="#b0cae6" stroke="#2a3440" stroke-width="1.1"/>
<circle cx="450.8" cy="385.6" r="7.8" fill="#fbe6a4" stroke="#3a3428" stroke-width="1.1"/>
<text x="471" y="333.6" font-size="13.3">Melanoma cell</text>
<text x="471" y="361" font-size="13.3">T<tspan font-size="9.2" dy="4">reg</tspan><tspan dy="-4"></tspan></text>
<text x="471" y="390.7" font-size="13.3">CD8+ T cell</text>
</svg></body></html>
